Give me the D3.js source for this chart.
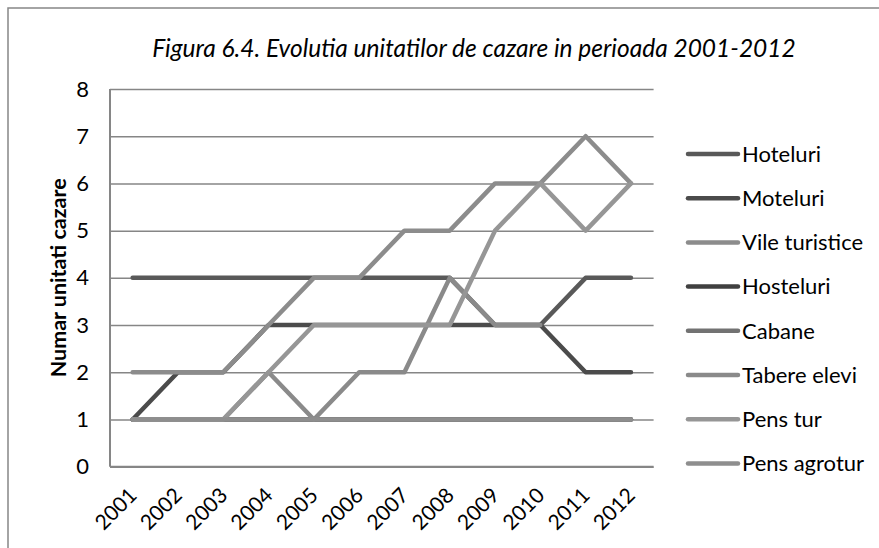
<!DOCTYPE html>
<html>
  <head>
    <title>Figura 6.4</title>
    <script src="https://d3js.org/d3.v7.min.js"></script>
    <style>
      body { margin: 0; background: #fff; }
      text { font-family: Lato, "Open Sans", sans-serif; fill: #000; }
    </style>
  </head>
  <body>
    <div id="vis"></div>
    <script>
      // values
      var years = ["2001", "2002", "2003", "2004", "2005", "2006", "2007", "2008", "2009", "2010", "2011", "2012"];
      var hoteluri    = [4, 4, 4, 4, 4, 4, 4, 4, 3, 3, 4, 4];
      var moteluri    = [1, 2, 2, 3, 3, 3, 3, 3, 3, 3, 2, 2];
      var vile        = [2, 2, 2, 3, 4, 4, 5, 5, 6, 6, 7, 6];
      var hosteluri   = [1, 1, 1, 1, 1, 1, 1, 1, 1, 1, 1, 1];
      var cabane      = [1, 1, 1, 1, 1, 1, 1, 1, 1, 1, 1, 1];
      var tabere      = [1, 1, 1, 2, 1, 2, 2, 4, 3, 3, null, null];
      var pensTur     = [1, 1, 1, 2, 3, 3, 3, 3, 5, 6, 5, 6];
      var pensAgrotur = [1, 1, 1, 1, 1, 1, 1, 1, 1, 1, 1, 1];
      var names  = ["Hoteluri", "Moteluri", "Vile turistice", "Hosteluri", "Cabane", "Tabere elevi", "Pens tur", "Pens agrotur"];
      var colors = ["#595959", "#4b4b4b", "#8c8c8c", "#404040", "#727272", "#8a8a8a", "#969696", "#8e8e8e"];
      var yTicks = [0, 1, 2, 3, 4, 5, 6, 7, 8];

      var series = [hoteluri, moteluri, vile, hosteluri, cabane, tabere, pensTur, pensAgrotur];

      var width = 879;
      var height = 548;
      var plotL = 110, plotR = 653.6, plotT = 89, plotB = 466.7;

      var svg = d3.select("#vis")
        .append("svg")
        .attr("width", width)
        .attr("height", height);

      // chart border
      svg.append("rect")
        .attr("x", 8).attr("y", 8)
        .attr("width", 900).attr("height", 600)
        .attr("fill", "none")
        .attr("stroke", "#878787")
        .attr("stroke-width", 1.5);

      svg.append("text")
        .attr("x", 474)
        .attr("y", 57)
        .attr("text-anchor", "middle")
        .style("font-style", "italic")
        .style("font-size", "24.5px")
        .text("Figura 6.4. Evolutia unitatilor de cazare in perioada 2001-2012");

      var x = d3.scalePoint()
        .domain(years)
        .range([plotL, plotR])
        .padding(0.5);

      var y = d3.scaleLinear()
        .domain([0, 8])
        .range([plotB, plotT]);

      // gridlines + y labels
      var yAxis = svg.append("g")
        .attr("transform", "translate(" + plotL + ",0)")
        .call(d3.axisLeft(y).tickValues(yTicks).tickSize(-(plotR - plotL)).tickPadding(21));
      yAxis.select(".domain").remove();
      yAxis.selectAll("line")
        .attr("stroke", "#868686")
        .attr("stroke-width", 1.5);
      yAxis.selectAll("text")
        .attr("font-family", null)
        .style("font-size", "22px");

      // axis lines
      svg.append("line")
        .attr("x1", plotL).attr("x2", plotL)
        .attr("y1", plotT).attr("y2", plotB)
        .attr("stroke", "#868686").attr("stroke-width", 2);
      svg.append("line")
        .attr("x1", plotL).attr("x2", plotR)
        .attr("y1", plotB).attr("y2", plotB)
        .attr("stroke", "#868686").attr("stroke-width", 2);

      // x labels
      var xAxis = svg.append("g")
        .attr("transform", "translate(0," + plotB + ")")
        .call(d3.axisBottom(x).tickSize(0).tickPadding(0));
      xAxis.select(".domain").remove();
      xAxis.selectAll("text")
        .attr("font-family", null)
        .style("font-size", "21px")
        .attr("text-anchor", "end")
        .attr("dy", null)
        .attr("y", 0)
        .attr("transform", "translate(5,30) rotate(-45)");

      svg.append("text")
        .attr("transform", "translate(66," + ((plotT + plotB) / 2) + ") rotate(-90)")
        .attr("text-anchor", "middle")
        .style("font-weight", "bold")
        .style("font-size", "21.5px")
        .text("Numar unitati cazare");

      var line = d3.line()
        .defined(function (d) { return d != null; })
        .x(function (d, i) { return x(years[i]); })
        .y(function (d) { return y(d); });

      svg.append("g")
        .selectAll("path")
        .data(series)
        .enter()
        .append("path")
        .attr("d", line)
        .attr("fill", "none")
        .attr("stroke", function (d, i) { return colors[i]; })
        .attr("stroke-width", 4.5)
        .attr("stroke-linecap", "round")
        .attr("stroke-linejoin", "round");

      // legend
      var legend = svg.append("g")
        .selectAll("g")
        .data(names)
        .enter()
        .append("g")
        .attr("transform", function (d, i) { return "translate(688," + (154 + i * 44.2) + ")"; });
      legend.append("line")
        .attr("x1", 0).attr("x2", 50)
        .attr("stroke", function (d, i) { return colors[i]; })
        .attr("stroke-width", 4.5)
        .attr("stroke-linecap", "round");
      legend.append("text")
        .attr("x", 54)
        .attr("dy", "0.35em")
        .style("font-size", "22px")
        .text(function (d) { return d; });
    </script>
  </body>
</html>
